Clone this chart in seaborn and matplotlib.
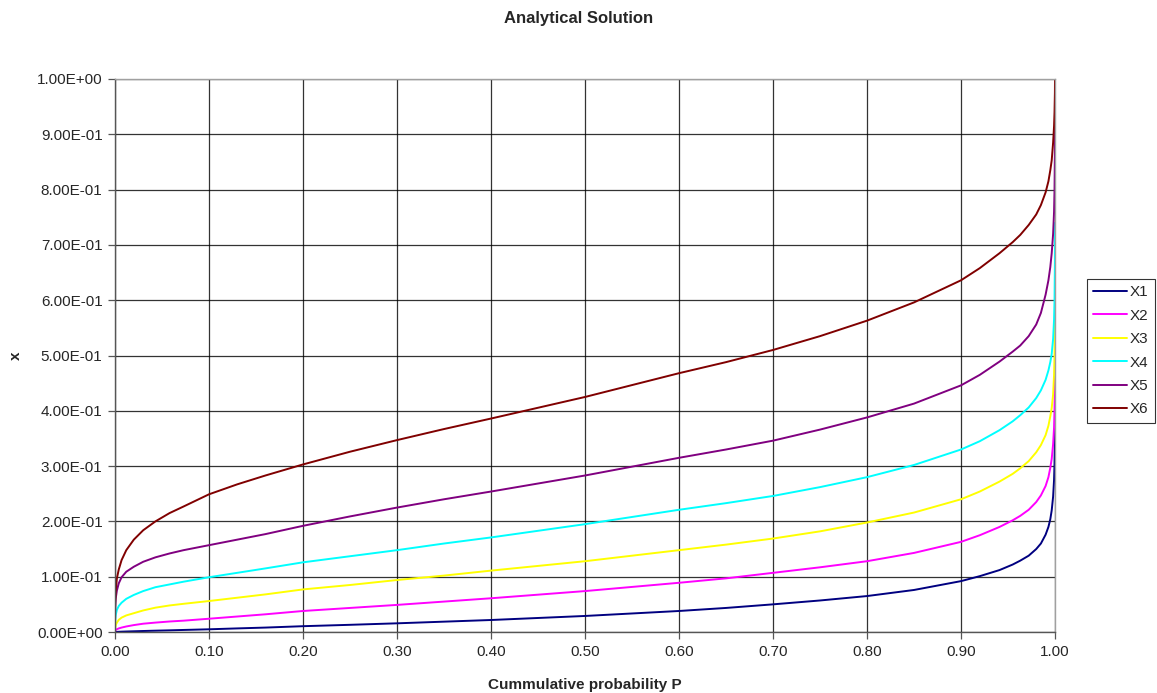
import numpy as np
import pandas as pd
import matplotlib
matplotlib.use("Agg")
import matplotlib.pyplot as plt
from matplotlib.ticker import FixedLocator, FuncFormatter
import seaborn as sns

# Cumulative probability sample points (denser near both ends)
prob = [0.0, 0.0002, 0.0007, 0.002, 0.004, 0.007, 0.012, 0.02, 0.03, 0.043,
        0.058, 0.073, 0.1, 0.13, 0.16, 0.2, 0.25, 0.3, 0.35, 0.4, 0.5, 0.6,
        0.65, 0.7, 0.75, 0.8, 0.85, 0.9, 0.92, 0.941, 0.955, 0.963, 0.972,
        0.98, 0.985, 0.99, 0.993, 0.995, 0.9965, 0.998, 0.999, 0.9995,
        0.9999, 1.0]

x1 = [0.0, 0.00005, 0.0001, 0.0002, 0.0004, 0.0006, 0.0009, 0.0013, 0.0018,
      0.0024, 0.003, 0.0037, 0.0049, 0.0065, 0.008, 0.0105, 0.013, 0.0157,
      0.0187, 0.0217, 0.029, 0.038, 0.0435, 0.050, 0.057, 0.065, 0.076,
      0.092, 0.101, 0.112, 0.122, 0.129, 0.138, 0.150, 0.160, 0.176, 0.190,
      0.204, 0.220, 0.245, 0.275, 0.305, 0.360, 0.420]
x2 = [0.0005, 0.002, 0.0035, 0.005, 0.0065, 0.008, 0.010, 0.0125, 0.015,
      0.017, 0.019, 0.0205, 0.024, 0.028, 0.032, 0.038, 0.0435, 0.049,
      0.055, 0.061, 0.074, 0.089, 0.097, 0.107, 0.117, 0.128, 0.143, 0.163,
      0.175, 0.190, 0.202, 0.210, 0.221, 0.235, 0.247, 0.264, 0.280, 0.297,
      0.313, 0.340, 0.370, 0.400, 0.460, 0.520]
x3 = [0.003, 0.008, 0.012, 0.017, 0.022, 0.026, 0.030, 0.034, 0.039, 0.044,
      0.048, 0.051, 0.056, 0.062, 0.068, 0.077, 0.085, 0.094, 0.102, 0.111,
      0.128, 0.148, 0.158, 0.169, 0.182, 0.198, 0.216, 0.240, 0.254, 0.272,
      0.286, 0.296, 0.309, 0.325, 0.338, 0.356, 0.373, 0.390, 0.405, 0.430,
      0.465, 0.500, 0.560, 0.620]
x4 = [0.010, 0.022, 0.030, 0.040, 0.047, 0.053, 0.060, 0.067, 0.074, 0.081,
      0.086, 0.091, 0.099, 0.107, 0.115, 0.126, 0.137, 0.148, 0.160, 0.171,
      0.195, 0.221, 0.233, 0.246, 0.262, 0.280, 0.302, 0.330, 0.345, 0.365,
      0.381, 0.392, 0.406, 0.423, 0.437, 0.456, 0.473, 0.488, 0.503, 0.530,
      0.565, 0.600, 0.670, 0.740]
x5 = [0.020, 0.045, 0.060, 0.075, 0.088, 0.099, 0.109, 0.118, 0.127, 0.135,
      0.142, 0.148, 0.157, 0.167, 0.177, 0.192, 0.209, 0.225, 0.240, 0.254,
      0.283, 0.315, 0.330, 0.346, 0.366, 0.388, 0.413, 0.446, 0.465, 0.489,
      0.507, 0.518, 0.535, 0.556, 0.577, 0.610, 0.636, 0.660, 0.685, 0.720,
      0.760, 0.800, 0.870, 0.920]
x6 = [0.030, 0.053, 0.072, 0.097, 0.113, 0.130, 0.148, 0.167, 0.184, 0.200,
      0.215, 0.227, 0.249, 0.267, 0.283, 0.303, 0.326, 0.347, 0.367, 0.386,
      0.425, 0.468, 0.488, 0.510, 0.535, 0.563, 0.596, 0.636, 0.658, 0.685,
      0.705, 0.718, 0.736, 0.755, 0.772, 0.795, 0.815, 0.835, 0.853, 0.885,
      0.915, 0.940, 0.975, 1.000]

series_names = ["X1", "X2", "X3", "X4", "X5", "X6"]
series_values = [x1, x2, x3, x4, x5, x6]
colors = ["#000080", "#FF00FF", "#FFFF00", "#00FFFF", "#800080", "#800000"]

x_ticks = [0.0, 0.1, 0.2, 0.3, 0.4, 0.5, 0.6, 0.7, 0.8, 0.9, 1.0]
y_ticks = [0.0, 0.1, 0.2, 0.3, 0.4, 0.5, 0.6, 0.7, 0.8, 0.9, 1.0]

df = pd.concat(
    [pd.DataFrame({"P": prob, "x": vals, "series": name})
     for name, vals in zip(series_names, series_values)],
    ignore_index=True,
)

sns.set_style("white")
plt.rcParams["font.family"] = ["Liberation Sans", "DejaVu Sans"]

fig = plt.figure(figsize=(11.57, 6.93), dpi=100)
ax = fig.add_axes([115 / 1157, 1 - 632 / 693, 940 / 1157, 553 / 693])

sns.lineplot(data=df, x="P", y="x", hue="series", hue_order=series_names,
             palette=dict(zip(series_names, colors)), linewidth=1.4,
             ax=ax, legend=False, estimator=None, sort=False)

ax.set_xlim(0, 1)
ax.set_ylim(0, 1)
ax.xaxis.set_major_locator(FixedLocator(x_ticks))
ax.yaxis.set_major_locator(FixedLocator(y_ticks))
ax.xaxis.set_major_formatter(FuncFormatter(lambda v, _: f"{v:.2f}"))
ax.yaxis.set_major_formatter(FuncFormatter(lambda v, _: f"{v:.2E}"))
ax.grid(True, color="#000000", linewidth=0.9, alpha=0.8)
ax.set_axisbelow(True)

for side in ["top", "right"]:
    ax.spines[side].set_color("#a0a0a0")
    ax.spines[side].set_linewidth(1.0)
for side in ["left", "bottom"]:
    ax.spines[side].set_color("#555555")
    ax.spines[side].set_linewidth(1.0)

ax.tick_params(axis="both", which="major", direction="out", length=5,
               width=0.9, color="#555555", labelsize=11, pad=4,
               left=True, bottom=True)

ax.set_xlabel("Cummulative probability P", fontsize=11, fontweight="bold",
              labelpad=14)
ax.set_ylabel("x", fontsize=11, fontweight="bold", labelpad=10)

fig.text(579 / 1157, 1 - 18 / 693, "Analytical Solution", ha="center",
         va="center", fontsize=12, fontweight="bold")

handles = [plt.Line2D([0], [0], color=c, linewidth=1.4) for c in colors]
leg = fig.legend(handles, series_names, loc="upper left",
                 bbox_to_anchor=(1087 / 1157, 1 - 279 / 693),
                 frameon=True, fancybox=False, fontsize=11,
                 handlelength=2.2, handletextpad=0.2, labelspacing=0.62,
                 borderpad=0.4, borderaxespad=0)
leg.get_frame().set_edgecolor("#000000")
leg.get_frame().set_linewidth(0.8)

fig.savefig("out.png", dpi=100, facecolor="white")
